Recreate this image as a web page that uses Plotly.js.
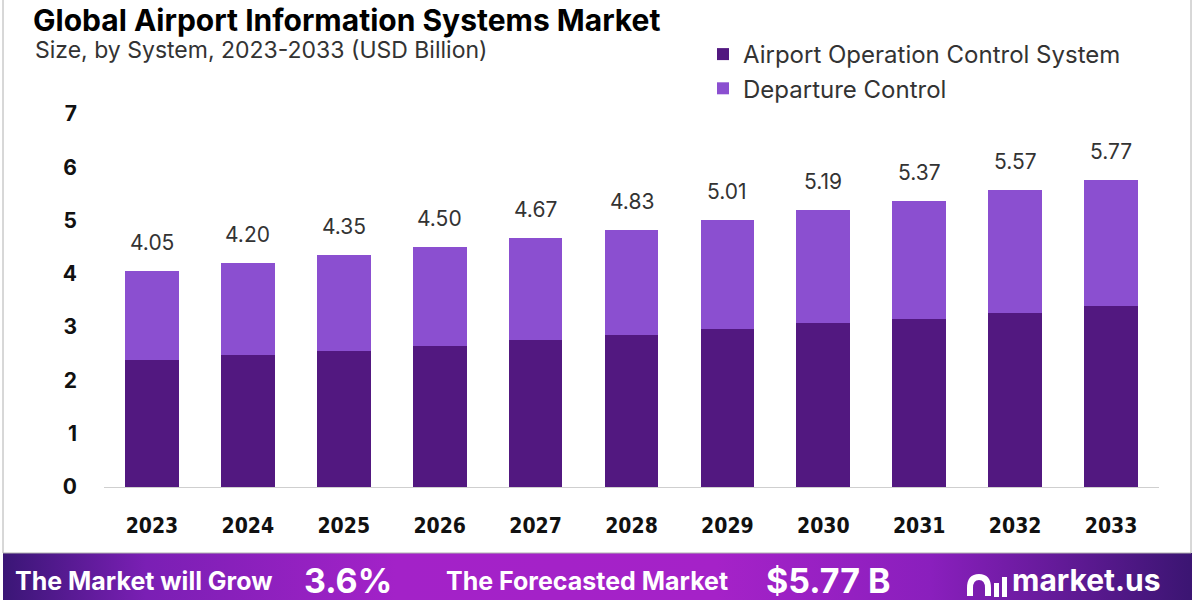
<!DOCTYPE html>
<html>
<head>
<meta charset="utf-8">
<script src="https://cdn.plot.ly/plotly-3.0.1.min.js"></script>
<style>
  html, body { margin: 0; padding: 0; background: #ffffff; }
  #wrap { position: relative; width: 1200px; height: 600px; overflow: hidden; }
  #banner { position: absolute; left: 3px; top: 553px; width: 1189px; height: 47px;
    background: linear-gradient(90deg, #3a1676 0%, #7a1fb4 12%, #a322c8 33%, #a522c8 60%, #8a1fbd 78%, #3b1572 100%); }
  #chart { position: absolute; left: 0; top: 0; width: 1200px; height: 600px; }
</style>
</head>
<body>
<div id="wrap">
  <div id="banner"></div>
  <div id="chart"></div>
</div>
<script>
// ---- data ----
const years = ["2023","2024","2025","2026","2027","2028","2029","2030","2031","2032","2033"];
const airportOperationControl = [2.39, 2.47, 2.55, 2.64, 2.75, 2.85, 2.96, 3.07, 3.16, 3.27, 3.39];
const departureControl = [1.66, 1.73, 1.80, 1.86, 1.92, 1.98, 2.05, 2.12, 2.21, 2.30, 2.38];
const totals = [4.05, 4.20, 4.35, 4.50, 4.67, 4.83, 5.01, 5.19, 5.37, 5.57, 5.77];
const totalLabels = ["4.05","4.20","4.35","4.50","4.67","4.83","5.01","5.19","5.37","5.57","5.77"];
const seriesNames = ["Airport Operation Control System", "Departure Control"];
const yTicks = [0,1,2,3,4,5,6,7];

// ---- layout helpers (pixel -> paper) ----
const L = 104, R = 1159, T = 114, B = 487;
const px = v => (v - L) / (R - L);
const py = v => (B - v) / (B - T);

const darkPurple = "#521880";
const lightPurple = "#8b4fd0";
const font = "Inter, 'Open Sans', sans-serif";

const traces = [
  { type: "bar", name: seriesNames[0], x: years, y: airportOperationControl,
    marker: { color: darkPurple }, hoverinfo: "skip" },
  { type: "bar", name: seriesNames[1], x: years, y: departureControl,
    marker: { color: lightPurple }, hoverinfo: "skip" }
];

const annotations = years.map((yr, i) => ({
  x: i, y: totals[i], xref: "x", yref: "y", text: totalLabels[i],
  showarrow: false, yanchor: "bottom", yshift: 14,
  font: { family: font, size: 21, color: "#333333" }
}));

const white = "#ffffff";
annotations.push(
  { xref: "paper", yref: "paper", x: px(33), y: py(50), xanchor: "left", yanchor: "middle",
    text: "Size, by System, 2023-2033 (USD Billion)", showarrow: false,
    font: { family: font, size: 23, color: "#333333" } },
  { xref: "paper", yref: "paper", x: px(13), y: py(581), xanchor: "left", yanchor: "middle",
    text: "<b>The Market will Grow</b>", showarrow: false,
    font: { family: font, size: 25, color: white } },
  { xref: "paper", yref: "paper", x: px(302), y: py(580), xanchor: "left", yanchor: "middle",
    text: "<b>3.6%</b>", showarrow: false,
    font: { family: font, size: 34, color: white } },
  { xref: "paper", yref: "paper", x: px(444), y: py(581), xanchor: "left", yanchor: "middle",
    text: "<b>The Forecasted Market</b>", showarrow: false,
    font: { family: font, size: 25, color: white } },
  { xref: "paper", yref: "paper", x: px(764), y: py(580), xanchor: "left", yanchor: "middle",
    text: "<b>$5.77 B</b>", showarrow: false,
    font: { family: font, size: 34, color: white } },
  { xref: "paper", yref: "paper", x: px(1010), y: py(580), xanchor: "left", yanchor: "middle",
    text: "<b>market.us</b>", showarrow: false,
    font: { family: font, size: 30, color: white } }
);

const shapes = [
  // frame
  { type: "rect", xref: "paper", yref: "paper", x0: px(3), x1: px(1191), y0: py(553), y1: py(-20),
    line: { color: "#b0b0b0", width: 1 }, fillcolor: "rgba(0,0,0,0)", layer: "below" },
  // logo icon: arch
  { type: "path", xref: "paper", yref: "paper",
    path: "M " + px(970) + "," + py(596) + " L " + px(970) + "," + py(588) +
          " Q " + px(970) + "," + py(577) + " " + px(979) + "," + py(577) +
          " Q " + px(988) + "," + py(577) + " " + px(988) + "," + py(588) +
          " L " + px(988) + "," + py(596),
    line: { color: white, width: 6 }, fillcolor: "rgba(0,0,0,0)" },
  // logo bars
  { type: "rect", xref: "paper", yref: "paper", x0: px(994), x1: px(999), y0: py(597), y1: py(583),
    line: { width: 0 }, fillcolor: white },
  { type: "rect", xref: "paper", yref: "paper", x0: px(1002), x1: px(1007), y0: py(597), y1: py(577),
    line: { width: 0 }, fillcolor: white }
];

const layout = {
  width: 1200, height: 600,
  margin: { l: L, r: 1200 - R, t: T, b: 600 - B, pad: 0 },
  paper_bgcolor: "rgba(0,0,0,0)",
  plot_bgcolor: "rgba(0,0,0,0)",
  barmode: "stack",
  bargap: 0.44,
  title: {
    text: "<b>Global Airport Information Systems Market</b>",
    xref: "container", yref: "container",
    x: 33 / 1200, xanchor: "left",
    y: 1, yanchor: "top",
    pad: { t: 10 },
    font: { family: font, size: 30, color: "#000000" }
  },
  xaxis: {
    type: "category",
    range: [-0.5, 10.5],
    showgrid: false, zeroline: false,
    showline: true, linecolor: "#cfcfcf", linewidth: 1,
    ticks: "", ticklabelstandoff: 20,
    tickfont: { family: "'DejaVu Sans Condensed', 'DejaVu Sans', sans-serif", size: 21, color: "#111111", weight: "bold" }
  },
  yaxis: {
    range: [0, 7],
    tickvals: yTicks,
    showgrid: false, zeroline: false, showline: false,
    ticks: "", ticklabelstandoff: 26,
    tickfont: { family: font, size: 21, color: "#111111", weight: "bold" }
  },
  legend: {
    x: px(703), y: py(32), xanchor: "left", yanchor: "top",
    traceorder: "normal",
    font: { family: font, size: 24, color: "#333333" },
    bgcolor: "rgba(0,0,0,0)"
  },
  showlegend: true,
  annotations: annotations,
  shapes: shapes
};

Plotly.newPlot("chart", traces, layout, { displayModeBar: false, staticPlot: true });
</script>
</body>
</html>
